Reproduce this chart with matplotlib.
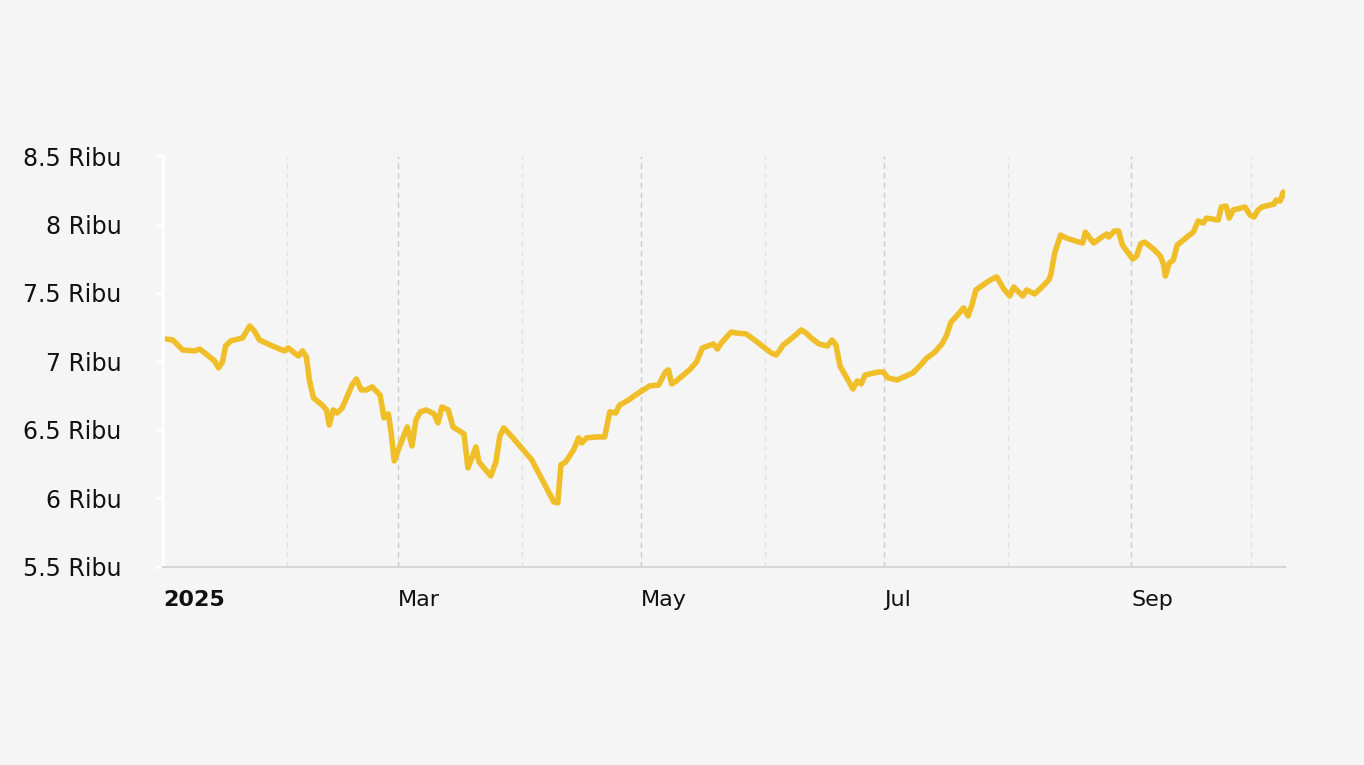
import numpy as np
import pandas as pd
import matplotlib
matplotlib.use("Agg")
from matplotlib import pyplot as plt
from matplotlib.transforms import ScaledTranslation

# days since 2025-01-01, values in thousands
days = [0, 1.8, 4.3, 7.3, 8.6, 10.6, 12.4, 13.4, 14.4, 15.2, 16.5, 19.5, 21.3, 22.5, 23.8, 27.1, 30.1, 31.1,
        32.7, 33.7, 34.7, 35.7, 36.5, 37.5, 39.7, 40.8, 41.5, 42.5, 43.5, 44.8, 47.3, 48.4, 49.6, 50.9, 52.4,
        54.4, 55.4, 56.5, 57.2, 58.0, 59.5, 61.3, 62.5, 63.5, 64.6, 66.1, 68.1, 69.1, 70.1, 71.7, 72.9, 75.7,
        76.7, 77.7, 78.7, 79.5, 82.5, 83.8, 84.8, 85.8, 87.9, 92.9, 98.5, 99.5, 100.3, 101.5, 103.5, 104.8,
        105.6, 106.8, 109.4, 111.4, 112.7, 114.2, 115.2, 117.5, 119.2, 122.8, 125.1, 126.8, 127.6, 128.4,
        129.6, 132.9, 134.7, 136.2, 139.0, 140.0, 141.0, 143.5, 144.8, 147.3, 149.1, 151.4, 153.7, 154.9,
        155.9, 156.7, 159.0, 161.3, 162.5, 163.8, 165.8, 167.9, 169.1, 170.1, 171.1, 172.7, 174.4, 175.5,
        176.5, 177.5, 180.8, 182.1, 183.3, 185.6, 187.9, 189.6, 191.6, 192.9, 195.2, 197.0, 198.2, 199.3,
        200.5, 202.5, 203.6, 204.6, 205.6, 207.4, 208.9, 210.2, 210.9, 212.7, 214.2, 215.2, 216.7, 217.5,
        218.5, 220.5, 222.1, 224.1, 224.6, 225.6, 227.1, 228.6, 231.7, 232.7, 233.4, 234.7, 235.5, 237.2,
        238.8, 239.3, 240.8, 241.8, 242.8, 245.4, 246.4, 247.4, 248.4, 250.7, 252.4, 253.2, 253.7, 254.7,
        255.7, 256.7, 259.5, 260.8, 262.0, 263.3, 264.1, 267.1, 267.9, 269.1, 269.9, 270.9, 273.9, 275.2,
        276.2, 277.2, 278.2, 281.3, 281.8, 282.8, 283.6, 284.1]
values = [7.164, 7.157, 7.084, 7.077, 7.091, 7.047, 7.004, 6.953, 6.996, 7.113, 7.150, 7.172, 7.259, 7.223,
          7.157, 7.113, 7.077, 7.099, 7.062, 7.040, 7.077, 7.033, 6.858, 6.734, 6.682, 6.646, 6.536, 6.646,
          6.624, 6.661, 6.828, 6.872, 6.792, 6.792, 6.814, 6.755, 6.588, 6.617, 6.485, 6.274, 6.390, 6.522,
          6.383, 6.573, 6.631, 6.646, 6.617, 6.551, 6.668, 6.646, 6.522, 6.471, 6.223, 6.296, 6.376, 6.266,
          6.164, 6.266, 6.456, 6.515, 6.449, 6.281, 5.974, 5.967, 6.245, 6.266, 6.354, 6.442, 6.405, 6.442,
          6.449, 6.449, 6.631, 6.624, 6.682, 6.719, 6.755, 6.821, 6.828, 6.923, 6.938, 6.836, 6.858, 6.938,
          6.996, 7.099, 7.128, 7.091, 7.135, 7.215, 7.208, 7.201, 7.164, 7.113, 7.062, 7.047, 7.084, 7.120,
          7.172, 7.230, 7.208, 7.172, 7.128, 7.113, 7.157, 7.120, 6.967, 6.887, 6.799, 6.858, 6.836, 6.901,
          6.923, 6.923, 6.880, 6.865, 6.894, 6.916, 6.974, 7.018, 7.069, 7.128, 7.193, 7.288, 7.325, 7.391,
          7.332, 7.412, 7.522, 7.558, 7.588, 7.609, 7.617, 7.529, 7.478, 7.544, 7.500, 7.478, 7.522, 7.493,
          7.536, 7.595, 7.631, 7.792, 7.923, 7.901, 7.872, 7.865, 7.945, 7.894, 7.865, 7.901, 7.931, 7.909,
          7.953, 7.953, 7.850, 7.748, 7.770, 7.858, 7.872, 7.821, 7.770, 7.712, 7.624, 7.719, 7.741, 7.850,
          7.916, 7.945, 8.026, 8.011, 8.047, 8.033, 8.128, 8.135, 8.047, 8.106, 8.128, 8.069, 8.055, 8.106,
          8.128, 8.150, 8.179, 8.172, 8.237, 8.215]

y_ticks = [5.5, 6, 6.5, 7, 7.5, 8, 8.5]
y_labels = ["5.5 Ribu", "6 Ribu", "6.5 Ribu", "7 Ribu", "7.5 Ribu", "8 Ribu", "8.5 Ribu"]

# the day readings were taken on a slightly off scale; correct them
days = [d * 0.98874 + 0.676 for d in days]

start = pd.Timestamp("2025-01-01")
dates = start + pd.to_timedelta(days, unit="D")

bg = "#f5f5f5"
fig = plt.figure(figsize=(13.64, 7.65), dpi=100, facecolor=bg)
ax = fig.add_axes([0.1195, 0.259, 0.8225, 0.537], facecolor=bg)

major = pd.to_datetime(["2025-03-01", "2025-05-01", "2025-07-01", "2025-09-01"])
minor = pd.to_datetime(["2025-02-01", "2025-04-01", "2025-06-01", "2025-08-01", "2025-10-01"])
for d in major:
    ax.axvline(d, color="#cccccc", lw=1, ls=(0, (4, 3)), zorder=0)
for d in minor:
    ax.axvline(d, color="#e2e2e2", lw=1, ls=(0, (4, 3)), zorder=0)

ax.plot(dates, values, color="#f0be28", lw=4, solid_joinstyle="round", solid_capstyle="round")

ax.set_xlim(start + pd.Timedelta(days=0.68), start + pd.Timedelta(days=281.5))
ax.set_ylim(5.5, 8.5)
ax.set_yticks(y_ticks)
ax.set_yticklabels(y_labels, fontsize=17, color="#111111")

xt = pd.to_datetime(["2025-01-01", "2025-03-01", "2025-05-01", "2025-07-01", "2025-09-01"])
ax.set_xticks(xt)
ax.set_xticklabels(["2025", "Mar", "May", "Jul", "Sep"], fontsize=16, color="#111111", ha="left")
ax.get_xticklabels()[0].set_fontweight("bold")
off = ScaledTranslation(0.06, 0, fig.dpi_scale_trans)
for lab in ax.get_xticklabels():
    lab.set_transform(lab.get_transform() + off)
ax.tick_params(axis="x", length=0, pad=17)
ax.tick_params(axis="y", length=6, color="white", width=2, pad=24)

for s in ["top", "right"]:
    ax.spines[s].set_visible(False)
ax.spines["left"].set_color("white")
ax.spines["left"].set_linewidth(2)
ax.spines["bottom"].set_color("#d6d6d6")
ax.spines["bottom"].set_linewidth(1.5)

fig.savefig("out.png", dpi=100, facecolor=bg)
